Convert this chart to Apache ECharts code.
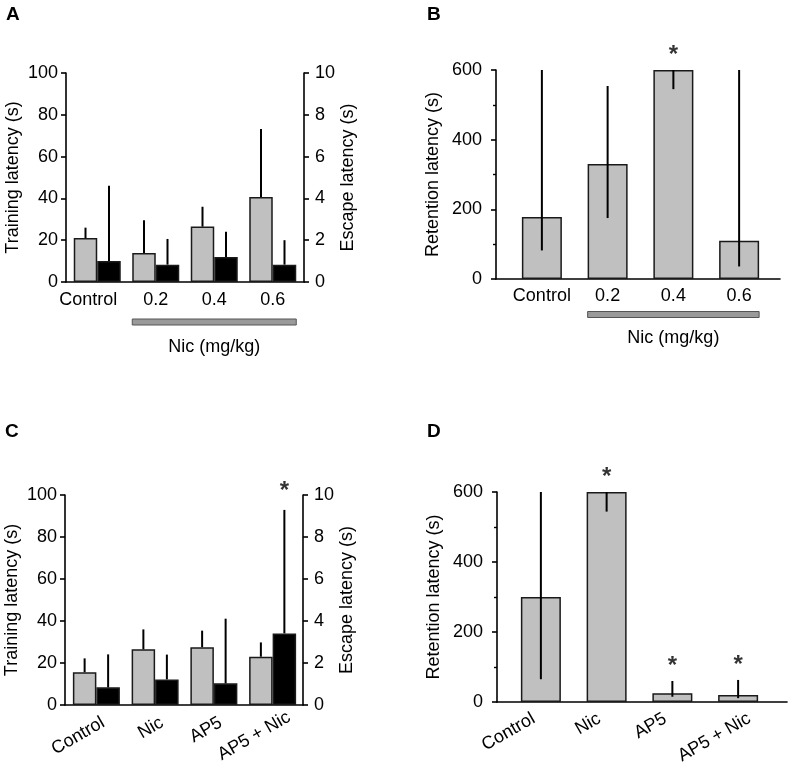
<!DOCTYPE html>
<html><head><meta charset="utf-8">
<script src="https://cdn.jsdelivr.net/npm/echarts@6/dist/echarts.min.js"></script>
<style>html,body{margin:0;padding:0;background:#fff}#c{width:789px;height:769px}</style>
</head><body><div id="c"></div>
<script>
// ---------- data ----------
const catsNic = ['Control', '0.2', '0.4', '0.6'];
const catsAP5 = ['Control', 'Nic', 'AP5', 'AP5 + Nic'];
const trainTicks = [0, 20, 40, 60, 80, 100];
const escapeTicks = [0, 2, 4, 6, 8, 10];
const retTicks = [0, 200, 400, 600];

// Panel A
const trainA = [21, 13.9, 26.5, 40.7];
const trainAHigh = [26, 29.5, 36, 73.2];
const escapeA = [1.0, 0.83, 1.2, 0.83];
const escapeAHigh = [4.6, 2.06, 2.4, 2.0];
// Panel B
const retB = [178, 330, 600, 110];
const retBLow = [82, 175, 545, 36];
const retBHigh = [600, 554, 600, 600];
const sigB = ['', '', '*', ''];
// Panel C
const trainC = [15.6, 26.5, 27.5, 23];
const trainCHigh = [22.2, 36, 35.4, 29.8];
const escapeC = [0.84, 1.22, 1.03, 3.41];
const escapeCHigh = [2.41, 2.4, 4.11, 9.29];
const sigCEscape = ['', '', '', '*'];
// Panel D
const retD = [300, 600, 25, 20];
const retDLow = [65, 544, 15, 11];
const retDHigh = [600, 600, 60, 63];
const sigD = ['', '*', '*', '*'];

// ---------- style ----------
const FONT = '"Liberation Sans", Arial, Helvetica, sans-serif';
const GRAY = '#c0c0c0';
const EDGE = '#1a1a1a';
const BW_A = 23.5;   // bar width panels A/C
const BW_B = 40;     // bar width panels B/D

const chart = echarts.init(document.getElementById('c'), null, {renderer: 'canvas'});

function lineOnlyX(grid) {
  return {type: 'value', gridIndex: grid, min: 0, max: 1, position: 'bottom',
    axisLine: {show: true, lineStyle: {color: '#000', width: 1.6}},
    axisTick: {show: false}, axisLabel: {show: false}, splitLine: {show: false}};
}
function catX(grid, cats, rotate, margin, showLabel) {
  return {type: 'category', gridIndex: grid, data: cats, position: 'bottom',
    axisLine: {show: false}, axisTick: {show: false}, splitLine: {show: false},
    axisLabel: {show: showLabel !== false, interval: 0, rotate: rotate || 0, margin: margin,
      fontSize: 18, color: '#000', fontFamily: FONT}};
}
function valY(grid, ticks, pos, name, nameGap, labMargin, minor) {
  return {type: 'value', gridIndex: grid, position: pos,
    min: ticks[0], max: ticks[ticks.length - 1], interval: ticks[1] - ticks[0],
    name: name, nameLocation: 'middle', nameGap: nameGap,
    nameTextStyle: {fontSize: 18, color: '#000', fontFamily: FONT},
    axisLine: {show: true, onZero: false, lineStyle: {color: '#000', width: 1.6}},
    axisTick: {show: true, length: 5, lineStyle: {color: '#000', width: 1.6}},
    minorTick: {show: !!minor, splitNumber: 2, length: 3, lineStyle: {color: '#000', width: 1.4}},
    axisLabel: {fontSize: 18, color: '#000', fontFamily: FONT, margin: labMargin},
    splitLine: {show: false}};
}
function hiddenY(grid, ticks) {
  return {type: 'value', gridIndex: grid, show: false, min: ticks[0], max: ticks[ticks.length - 1],
    splitLine: {show: false}};
}
function barS(xi, yi, data, color, bw) {
  return {type: 'bar', xAxisIndex: xi, yAxisIndex: yi, data: data, barWidth: bw, barGap: '0%',
    z: 2, silent: true,
    itemStyle: {color: color, borderColor: EDGE, borderWidth: 1.5}};
}
function errS(xi, yi, lows, highs, off) {
  return {type: 'custom', xAxisIndex: xi, yAxisIndex: yi, z: 5, silent: true,
    data: lows.map((l, i) => [i, l, highs[i]]),
    encode: {x: 0, y: [1, 2]},
    renderItem: function (params, api) {
      const i = api.value(0);
      const a = api.coord([i, api.value(1)]);
      const b = api.coord([i, api.value(2)]);
      return {type: 'line', shape: {x1: a[0] + off, y1: a[1], x2: b[0] + off, y2: b[1]},
        style: {stroke: '#000', lineWidth: 2}};
    }};
}
function sigS(xi, yi, sig, highs, off, dist) {
  const data = [];
  sig.forEach((s, i) => { if (s) data.push({value: [i, highs[i]], label: {formatter: s}}); });
  return {type: 'scatter', xAxisIndex: xi, yAxisIndex: yi, data: data, symbolSize: 1, z: 6, silent: true,
    itemStyle: {color: 'rgba(0,0,0,0)'},
    label: {show: true, position: 'top', distance: dist, offset: [off, 0],
      fontSize: 24, fontWeight: 'bold', color: '#000', fontFamily: FONT}};
}

// per-label fine placement (matches hand-placed labels of the original figure)
const labelsA = catsNic.map((c, i) => i === 0 ? {value: c, textStyle: {padding: [0, 18, 0, 0]}} : c);
const labelsC = catsAP5.map((c, i) => i < 3 ? {value: c, textStyle: {padding: [0, 11, 0, 0]}} : c);
const labelsD = catsAP5.map((c, i) => i < 3 ? {value: c, textStyle: {padding: [0, 16, 0, 0]}}
  : {value: c, textStyle: {verticalAlign: 'top'}});

const option = {
  backgroundColor: '#ffffff',
  animation: false,
  grid: [
    {left: 66, top: 73, width: 238, height: 209},   // 0 A axes
    {left: 68, top: 73, width: 234, height: 209},   // 1 A plot
    {left: 496, top: 70, width: 284, height: 209},  // 2 B axes
    {left: 509, top: 70, width: 263, height: 209},  // 3 B plot
    {left: 65, top: 495, width: 238, height: 210},  // 4 C axes
    {left: 67, top: 495, width: 235, height: 210},  // 5 C plot
    {left: 497, top: 492, width: 290, height: 210}, // 6 D axes
    {left: 508, top: 492, width: 263, height: 210}, // 7 D plot
    {left: 83.4, top: 495, width: 235, height: 210}, // 8 C labels
    {left: 514.6, top: 492, width: 263, height: 210} // 9 D labels
  ],
  xAxis: [
    lineOnlyX(0), catX(1, labelsA, 0, 9),
    lineOnlyX(2), catX(3, catsNic, 0, 8),
    lineOnlyX(4), catX(5, catsAP5, 0, 8, false),
    lineOnlyX(6), catX(7, catsAP5, 0, 8, false),
    catX(8, labelsC, 30, 11),
    catX(9, labelsD, 30, 7.5)
  ],
  yAxis: [
    valY(0, trainTicks, 'left', 'Training latency (s)', 44, 8),   // 0
    valY(0, escapeTicks, 'right', 'Escape latency (s)', 30, 11),  // 1
    hiddenY(1, trainTicks),                                       // 2
    hiddenY(1, escapeTicks),                                      // 3
    valY(2, retTicks, 'left', 'Retention latency (s)', 54, 14, true), // 4
    hiddenY(3, retTicks),                                         // 5
    valY(4, trainTicks, 'left', 'Training latency (s)', 44, 8),   // 6
    valY(4, escapeTicks, 'right', 'Escape latency (s)', 30, 11),  // 7
    hiddenY(5, trainTicks),                                       // 8
    hiddenY(5, escapeTicks),                                      // 9
    valY(6, retTicks, 'left', 'Retention latency (s)', 54, 14, true), // 10
    hiddenY(7, retTicks),                                         // 11
    hiddenY(8, trainTicks),                                       // 12
    hiddenY(9, retTicks)                                          // 13
  ],
  series: [
    // A
    barS(1, 2, trainA, GRAY, BW_A),
    barS(1, 3, escapeA, '#000', BW_A),
    errS(1, 2, trainA, trainAHigh, -BW_A / 2),
    errS(1, 3, escapeA, escapeAHigh, BW_A / 2),
    // B
    barS(3, 5, retB, GRAY, BW_B),
    errS(3, 5, retBLow, retBHigh, 0),
    sigS(3, 5, sigB, retBHigh, 0, 2),
    // C
    barS(5, 8, trainC, GRAY, BW_A),
    barS(5, 9, escapeC, '#000', BW_A),
    errS(5, 8, trainC, trainCHigh, -BW_A / 2),
    errS(5, 9, escapeC, escapeCHigh, BW_A / 2),
    sigS(5, 9, sigCEscape, escapeCHigh, BW_A / 2, 6),
    // D
    barS(7, 11, retD, GRAY, BW_B),
    errS(7, 11, retDLow, retDHigh, 0),
    sigS(7, 11, sigD, retDHigh, 0, 2)
  ]
};
chart.setOption(option);

// ---------- annotations derived from the axes ----------
function nicBracket(xi, yi, halfGroup, dy, textDy) {
  const x1 = chart.convertToPixel({xAxisIndex: xi}, 1) - halfGroup;
  const x2 = chart.convertToPixel({xAxisIndex: xi}, 3) + halfGroup;
  const y0 = chart.convertToPixel({yAxisIndex: yi}, 0);
  return [
    {type: 'rect', shape: {x: x1, y: y0 + dy, width: x2 - x1, height: 6},
      style: {fill: '#9a9a9a', stroke: '#555', lineWidth: 1}},
    {type: 'text', x: (x1 + x2) / 2, y: y0 + textDy,
      style: {text: 'Nic (mg/kg)', fontSize: 18, fontFamily: FONT, fill: '#000',
        textAlign: 'center', textVerticalAlign: 'middle'}}
  ];
}
function panelLabel(t, x, y) {
  return {type: 'text', x: x, y: y,
    style: {text: t, fontSize: 19, fontWeight: 'bold', fontFamily: FONT, fill: '#000',
      textAlign: 'left', textVerticalAlign: 'middle'}};
}
const g = [].concat(
  nicBracket(1, 2, BW_A, 37, 65),
  nicBracket(3, 5, BW_B / 2, 32.5, 59),
  [panelLabel('A', 6, 15), panelLabel('B', 427, 15), panelLabel('C', 5, 432), panelLabel('D', 427, 432)]
);
chart.setOption({graphic: g});
</script>
</body></html>
